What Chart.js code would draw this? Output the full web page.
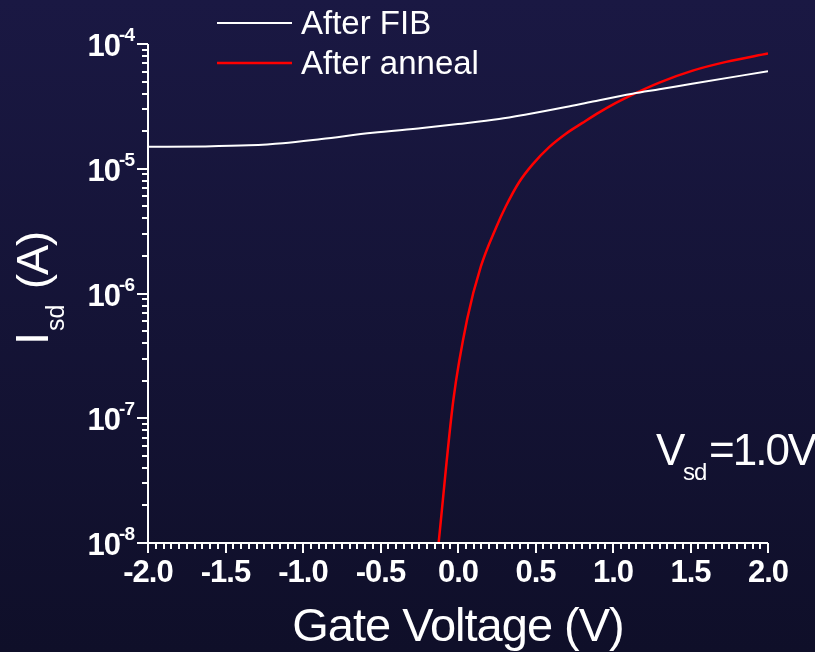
<!DOCTYPE html>
<html>
<head>
<meta charset="utf-8">
<script src="https://cdn.jsdelivr.net/npm/chart.js@4.4.1/dist/chart.umd.min.js"></script>
<style>
  html, body { margin: 0; padding: 0; background: #141335; }
  #wrap { width: 815px; height: 652px; }
</style>
</head>
<body>
<div id="wrap"><canvas id="ivChart" width="815" height="652"></canvas></div>
<script>
// gate voltage (V) / source-drain current (A)
const fibV = [-2.0, -1.63, -1.35, -1.13, -0.88, -0.55, -0.23, 0.0, 0.265, 0.44, 0.696, 0.87, 1.126, 1.299, 1.51, 2.0];
const fibI = [1.50e-5, 1.51e-5, 1.54e-5, 1.60e-5, 1.73e-5, 1.94e-5, 2.12e-5, 2.28e-5, 2.50e-5, 2.72e-5, 3.12e-5, 3.46e-5, 4.00e-5, 4.34e-5, 4.80e-5, 6.05e-5];
const annealV = [-0.125, -0.03, 0.06, 0.147, 0.244, 0.308, 0.394, 0.480, 0.588, 0.696, 0.803, 0.911, 1.019, 1.126, 1.299, 1.514, 1.73, 2.0];
const annealI = [1.0e-8, 1.40e-7, 6.3e-7, 1.64e-6, 3.34e-6, 4.98e-6, 7.8e-6, 1.08e-5, 1.49e-5, 1.91e-5, 2.33e-5, 2.83e-5, 3.37e-5, 3.93e-5, 4.91e-5, 6.12e-5, 7.19e-5, 8.39e-5];
const seriesNames = ['After FIB', 'After anneal'];
const xTickLabels = ['-2.0', '-1.5', '-1.0', '-0.5', '0.0', '0.5', '1.0', '1.5', '2.0'];
const yDecades = [-8, -7, -6, -5, -4];

const FONT = '"Liberation Sans", Arial, sans-serif';

const toPoints = (xs, ys) => xs.map((v, i) => ({ x: v, y: ys[i] }));

// background, ticks, labels, legend and annotation
const decor = {
    id: 'decor',
    beforeDraw(chart) {
        const { ctx, width, height } = chart;
        const g = ctx.createLinearGradient(0, 0, 0, height);
        g.addColorStop(0, '#1a1843');
        g.addColorStop(1, '#0f0f29');
        ctx.save();
        ctx.fillStyle = g;
        ctx.fillRect(0, 0, width, height);
        ctx.restore();
    },
    afterDraw(chart) {
        const { ctx, chartArea: a } = chart;
        const x = chart.scales.x, y = chart.scales.y;
        ctx.save();
        ctx.strokeStyle = '#ffffff';
        ctx.fillStyle = '#ffffff';
        ctx.lineWidth = 2;

        // axis lines
        ctx.beginPath();
        ctx.moveTo(a.left, a.top);
        ctx.lineTo(a.left, a.bottom);
        ctx.lineTo(a.right, a.bottom);
        ctx.stroke();

        // x ticks
        x.ticks.forEach(t => {
            const major = Math.abs(t.value * 2 - Math.round(t.value * 2)) < 1e-6;
            const px = Math.round(x.getPixelForValue(t.value));
            ctx.beginPath();
            ctx.moveTo(px, a.bottom);
            ctx.lineTo(px, a.bottom + (major ? 10 : 6));
            ctx.stroke();
        });
        // y ticks
        y.ticks.forEach(t => {
            const py = Math.round(y.getPixelForValue(t.value));
            ctx.beginPath();
            ctx.moveTo(a.left, py);
            ctx.lineTo(a.left - (t.major ? 11 : 6), py);
            ctx.stroke();
        });

        // x tick labels
        ctx.font = 'bold 31px ' + FONT;
        ctx.letterSpacing = '-1px';
        ctx.textAlign = 'center';
        ctx.textBaseline = 'alphabetic';
        xTickLabels.forEach(lbl => {
            ctx.fillText(lbl, x.getPixelForValue(parseFloat(lbl)), a.bottom + 39);
        });

        // y tick labels 10^n
        yDecades.forEach(d => {
            const py = y.getPixelForValue(Math.pow(10, d));
            ctx.textAlign = 'right';
            ctx.font = 'bold 19px ' + FONT;
            ctx.letterSpacing = '-1px';
            ctx.fillText(String(d), 134, py - 3);
            const supW = ctx.measureText(String(d)).width;
            ctx.font = 'bold 31px ' + FONT;
            ctx.fillText('10', 134 - supW + 1, py + 12);
        });

        // x title
        ctx.font = '47px ' + FONT;
        ctx.letterSpacing = '-1px';
        ctx.textAlign = 'center';
        ctx.fillText('Gate Voltage (V)', (a.left + a.right) / 2, 641);

        // y title, rotated
        ctx.save();
        ctx.translate(48, 345);
        ctx.rotate(-Math.PI / 2);
        ctx.textAlign = 'left';
        ctx.font = '47px ' + FONT;
        ctx.letterSpacing = '0px';
        ctx.fillText('I', 0, 0);
        let cx = ctx.measureText('I').width + 1;
        ctx.font = '25px ' + FONT;
        ctx.fillText('sd', cx, 16);
        cx += ctx.measureText('sd').width + 4;
        ctx.font = '45px ' + FONT;
        ctx.letterSpacing = '-1px';
        ctx.fillText(' (A)', cx, 0);
        ctx.restore();

        // V_sd annotation
        ctx.textAlign = 'left';
        ctx.font = '44px ' + FONT;
        ctx.letterSpacing = '-2px';
        ctx.fillText('V', 656, 465);
        ctx.font = '24px ' + FONT;
        ctx.letterSpacing = '-1px';
        ctx.fillText('sd', 683, 480);
        ctx.font = '44px ' + FONT;
        ctx.letterSpacing = '-2px';
        ctx.fillText('=1.0V', 709, 465);

        // legend
        ctx.font = '33px ' + FONT;
        ctx.letterSpacing = '0px';
        chart.data.datasets.forEach((ds, i) => {
            const ly = 23 + i * 40;
            ctx.strokeStyle = ds.borderColor;
            ctx.lineWidth = ds.borderWidth;
            ctx.beginPath();
            ctx.moveTo(217, ly);
            ctx.lineTo(292, ly);
            ctx.stroke();
            ctx.fillStyle = '#ffffff';
            ctx.fillText(ds.label, 301, ly + 11);
        });
        ctx.restore();
    }
};

new Chart(document.getElementById('ivChart'), {
    type: 'line',
    data: {
        datasets: [
            {
                label: seriesNames[0],
                data: toPoints(fibV, fibI),
                borderColor: '#ffffff',
                borderWidth: 2,
                pointRadius: 0,
                cubicInterpolationMode: 'monotone',
                fill: false
            },
            {
                label: seriesNames[1],
                data: toPoints(annealV, annealI),
                borderColor: '#ff0000',
                borderWidth: 2.5,
                pointRadius: 0,
                cubicInterpolationMode: 'monotone',
                fill: false
            }
        ]
    },
    options: {
        responsive: false,
        animation: false,
        devicePixelRatio: 1,
        layout: { padding: { left: 0, top: 44, right: 47, bottom: 0 } },
        plugins: {
            legend: { display: false },
            tooltip: { enabled: false }
        },
        scales: {
            x: {
                type: 'linear',
                min: -2,
                max: 2,
                ticks: { display: false, stepSize: 0.05 },
                grid: { display: false },
                border: { display: false },
                afterFit: s => { s.height = 109; }
            },
            y: {
                type: 'logarithmic',
                min: 1e-8,
                max: 1e-4,
                ticks: { display: false },
                grid: { display: false },
                border: { display: false },
                afterFit: s => { s.width = 148; },
                afterBuildTicks: s => {
                    const t = [];
                    yDecades.forEach(d => {
                        for (let k = 1; k <= 9; k++) {
                            const v = k * Math.pow(10, d);
                            if (v <= 1.0001e-4) t.push({ value: v, major: k === 1 });
                        }
                    });
                    s.ticks = t;
                }
            }
        }
    },
    plugins: [decor]
});
</script>
</body>
</html>
